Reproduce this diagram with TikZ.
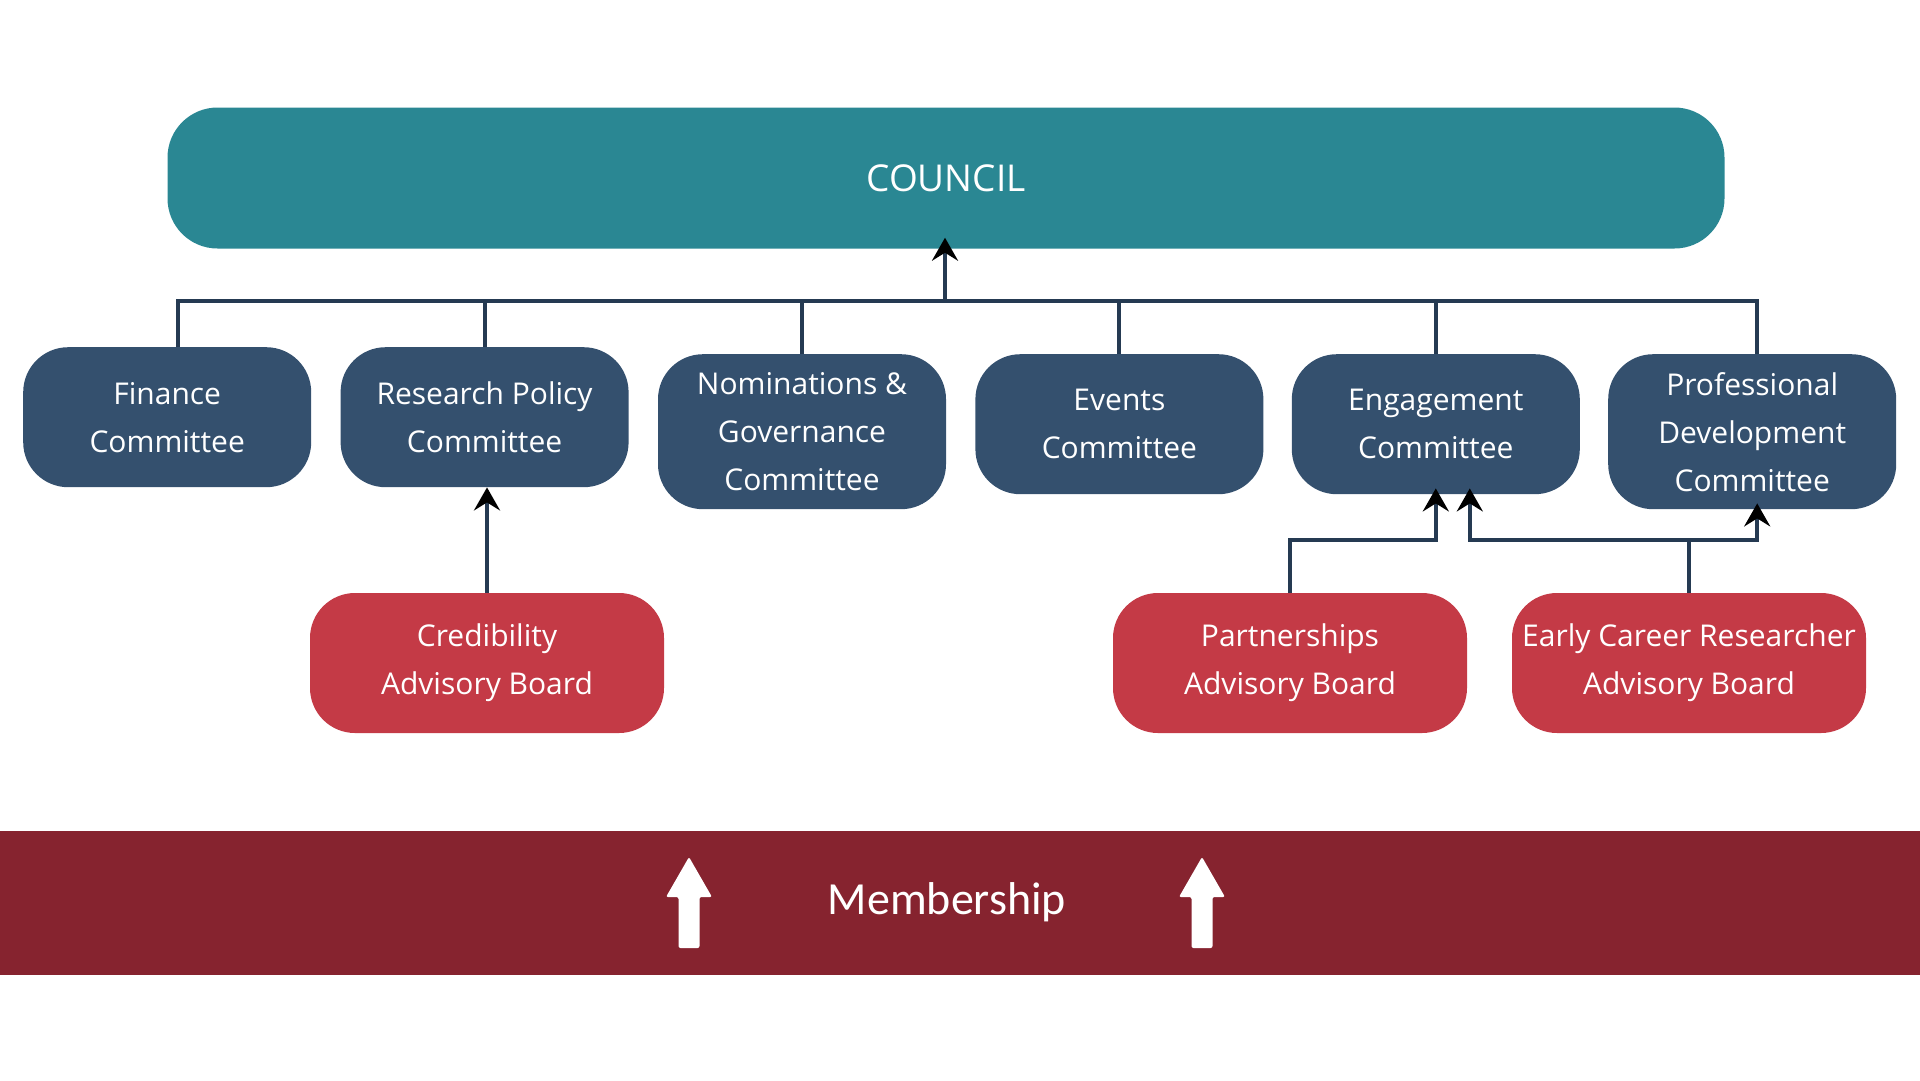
\documentclass[tikz,border=0pt]{standalone}
\usepackage{fontspec}
\setmainfont{Open Sans}
\newfontfamily\bandfont{Carlito}
\usetikzlibrary{positioning,arrows.meta}

\definecolor{councilteal}{HTML}{2A8793}
\definecolor{cmteblue}{HTML}{34506E}
\definecolor{boardred}{HTML}{C43A46}
\definecolor{memberred}{HTML}{86232F}
\definecolor{linknavy}{HTML}{253A52}

\tikzset{
	council/.style={fill=councilteal, text=white, rounded corners=50pt, minimum width=1557pt, minimum height=141pt, inner sep=0pt, font=\fontsize{37}{44}\selectfont},
	cmte/.style={fill=cmteblue, text=white, rounded corners=45pt, minimum width=288pt, minimum height=140pt, inner sep=0pt, align=center, font=\fontsize{30}{48}\selectfont},
	board/.style={cmte, fill=boardred, minimum width=354pt},
	link/.style={draw=linknavy, line width=4pt},
	up/.style={link, -{Stealth[length=23pt,width=26pt,inset=8pt,color=black]}, shorten >=-6pt},
}

\begin{document}
\begin{tikzpicture}[x=1pt,y=-1pt]
	\useasboundingbox (0,0) rectangle (1920,1080);
	\node[council](council) at (946,178){COUNCIL};
	\node[cmte,anchor=north west](finance) at (23,347){Finance\\Committee};
	\node[cmte](research)[right=29pt of finance.north east,anchor=north west]{Research Policy\\Committee};
	\node[cmte,minimum height=155pt](nomin)[right=29pt of research.north east,anchor=north west,yshift=-7pt]{Nominations \&\\Governance\\Committee};
	\node[cmte](events)[right=29pt of nomin.north east,anchor=north west]{Events\\Committee};
	\node[cmte](engage)[right=28pt of events.north east,anchor=north west]{Engagement\\Committee};
	\node[cmte,minimum height=155pt](profdev)[right=28pt of engage.north east,anchor=north west]{Professional\\Development\\Committee};
	\node[board](cred) at (487,663){Credibility\\Advisory Board};
	\node[board](partner) at (1290,663){Partnerships\\Advisory Board};
	\node[board](ecr) at (1689,663){Early Career Researcher\\Advisory Board};
	\coordinate(bus) at (945,301);
	\coordinate(jn) at (1689,540);
	% committees up to council
	\draw[link]([xshift=11pt]finance.north) |- ([xshift=5pt]profdev.north |- bus) -- ([xshift=5pt]profdev.north);
	\foreach \n in {research,nomin,events,engage}
		\draw[link](\n.north |- bus) -- (\n.north);
	\draw[up,shorten >=-11pt](bus) -- (council.south -| bus);
	% advisory boards
	\draw[up,shorten >=0pt](cred.north) -- (cred.north |- research.south);
	\draw[up](partner.north) |- (engage.south |- jn) -- (engage.south);
	\draw[up](ecr.north) |- ([xshift=34pt]engage.south |- jn) -- ([xshift=34pt]engage.south);
	\draw[up](jn) -| ([xshift=5pt]profdev.south);
	% membership
	\fill[memberred](0,831) rectangle (1920,975);
	\node[text=white,font=\bandfont\fontsize{46}{50}\selectfont](member) at (947,902){Membership};
	\foreach \ax in {689,1202}
		\fill[white,rounded corners=2pt](\ax,857) -- ++(23,40) -- ++(-12.5,0) -- ++(0,51) -- ++(-21,0) -- ++(0,-51) -- ++(-12.5,0) -- cycle;
\end{tikzpicture}
\end{document}
